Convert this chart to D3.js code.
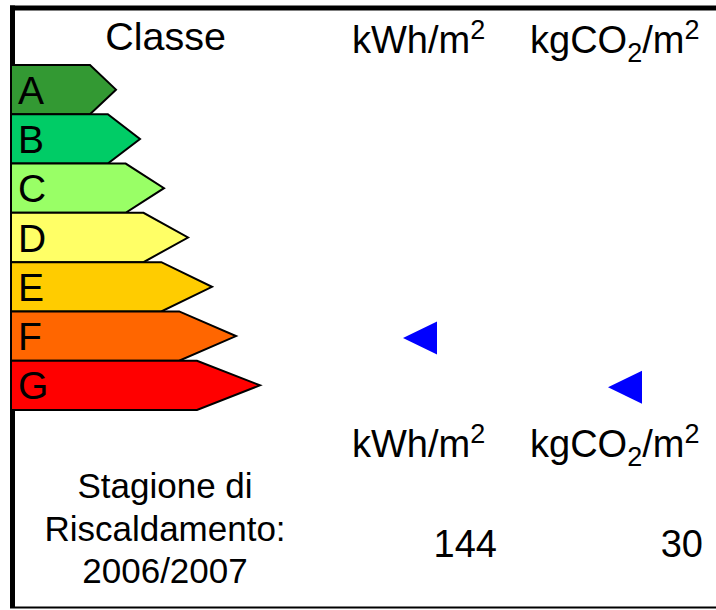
<!DOCTYPE html>
<html>
<head>
<meta charset="utf-8">
<script src="https://cdn.jsdelivr.net/npm/d3@7/dist/d3.min.js"></script>
<style>
  html, body { margin: 0; padding: 0; background: #fff; }
  svg { display: block; }
  text { font-family: "Liberation Sans", Arial, sans-serif; fill: #000; }
</style>
</head>
<body>
<svg id="chart" width="716" height="610"></svg>
<script>
// ---- data ----
const classes = ["A", "B", "C", "D", "E", "F", "G"];
const classColors = ["#339933", "#00cc66", "#99ff66", "#ffff66", "#ffcc00", "#ff6600", "#ff0000"];
const indicatorUnits = ["kWh", "kgCO2"];
const indicatorValues = [144, 30];
const indicatorClasses = ["F", "G"];
const seasonLines = ["Stagione di", "Riscaldamento:", "2006/2007"];
const headerTitle = "Classe";

// ---- layout ----
const svg = d3.select("#chart");
const W = 716, H = 610;

const y = d3.scaleBand().domain(classes).range([65, 410]).paddingInner(0);
const idx = d3.scaleOrdinal().domain(classes).range(d3.range(classes.length));
const xCorner = d3.scaleLinear().domain([0, classes.length - 1]).range([90, 197]);
const xTip = d3.scaleLinear().domain([0, classes.length - 1]).range([116, 260]);
const barLeft = 11;

// column positions for the two indicators
const colX = d3.scaleOrdinal().domain(indicatorUnits).range([420, 625]);
const colLabelX = d3.scaleOrdinal().domain(indicatorUnits).range([352, 530]);
const colValueX = d3.scaleOrdinal().domain(indicatorUnits).range([497, 703]);

// frame
svg.append("line").attr("x1", 10).attr("x2", W + 5).attr("y1", 8).attr("y2", 8)
  .attr("stroke", "#000").attr("stroke-width", 5);
svg.append("line").attr("x1", 12.5).attr("x2", 12.5).attr("y1", 5.5).attr("y2", 608)
  .attr("stroke", "#000").attr("stroke-width", 5);
svg.append("line").attr("x1", 10).attr("x2", W + 5).attr("y1", 607.5).attr("y2", 607.5)
  .attr("stroke", "#000").attr("stroke-width", 2);

// header
svg.append("text").attr("x", 165.5).attr("y", 50).attr("text-anchor", "middle")
  .attr("font-size", 39.5).text(headerTitle);

function unitLabel(sel, unit, x, yBase) {
  const t = sel.append("text").attr("x", x).attr("y", yBase).attr("font-size", 38);
  if (unit === "kWh") {
    t.append("tspan").text("kWh/m");
    t.append("tspan").attr("font-size", 27).attr("dy", -14).text("2");
  } else {
    t.append("tspan").text("kgCO");
    t.append("tspan").attr("font-size", 27).attr("dy", 9).text("2");
    t.append("tspan").attr("dy", -9).text("/m");
    t.append("tspan").attr("font-size", 27).attr("dy", -14).text("2");
  }
}
indicatorUnits.forEach(u => unitLabel(svg, u, colLabelX(u), 53));
indicatorUnits.forEach(u => unitLabel(svg, u, colLabelX(u), 457));

// class arrows
const bars = svg.append("g");
bars.selectAll("path").data(classes).join("path")
  .attr("d", c => {
    const i = idx(c), t = y(c), b = t + y.bandwidth(), m = t + y.bandwidth() / 2;
    return `M${barLeft},${t}L${xCorner(i)},${t}L${xTip(i)},${m}L${xCorner(i)},${b}L${barLeft},${b}Z`;
  })
  .attr("fill", (c, i) => classColors[i])
  .attr("stroke", "#000").attr("stroke-width", 2).attr("stroke-linejoin", "miter");

bars.selectAll("text").data(classes).join("text")
  .attr("x", 18).attr("y", c => y(c) + y.bandwidth() / 2 + 14)
  .attr("font-size", 39).text(c => c);

// indicator triangles
svg.append("g").selectAll("path").data(indicatorUnits).join("path")
  .attr("d", (u, i) => {
    const cx = colX(u), cy = y(indicatorClasses[i]) + y.bandwidth() / 2 + 2;
    return `M${cx - 17},${cy}L${cx + 17},${cy - 16.5}L${cx + 17},${cy + 16.5}Z`;
  })
  .attr("fill", "#0000ff");

// season text
svg.append("g").selectAll("text").data(seasonLines).join("text")
  .attr("x", 165).attr("y", (d, i) => 498 + i * 42.5)
  .attr("text-anchor", "middle").attr("font-size", 35).text(d => d);

// values
svg.append("g").selectAll("text").data(indicatorUnits).join("text")
  .attr("x", u => colValueX(u)).attr("y", 557)
  .attr("text-anchor", "end").attr("font-size", 38)
  .text((u, i) => indicatorValues[i]);
</script>
</body>
</html>
